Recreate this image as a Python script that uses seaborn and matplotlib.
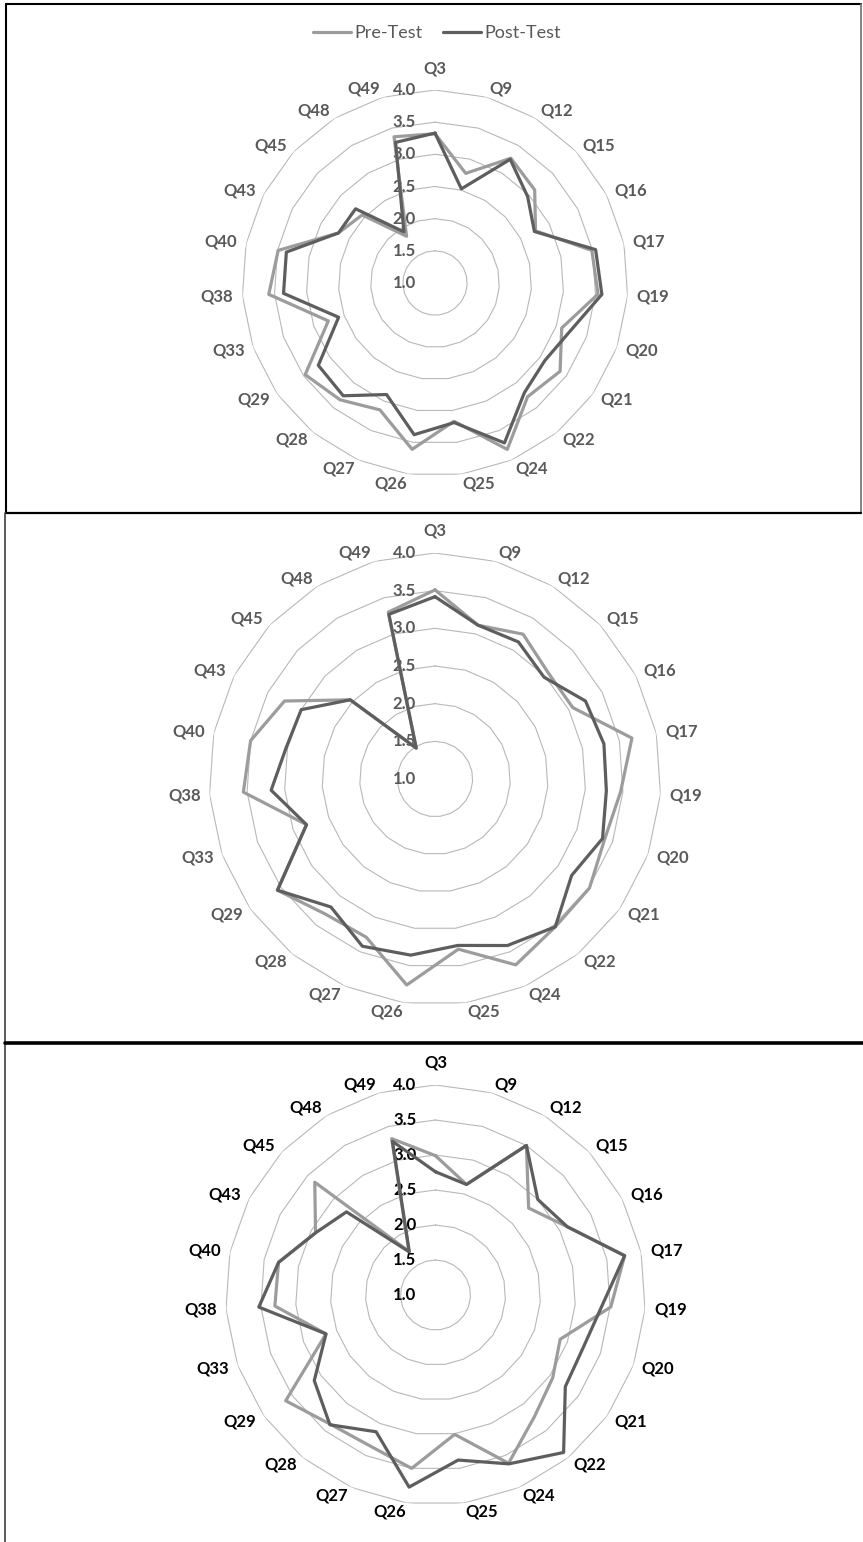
import numpy as np
import pandas as pd
import seaborn as sns
import matplotlib.pyplot as plt
from matplotlib.lines import Line2D

# Questões (eixos do radar, sentido horário a partir do topo)
questoes = ["Q3", "Q9", "Q12", "Q15", "Q16", "Q17", "Q19", "Q20", "Q21", "Q22", "Q24", "Q25",
            "Q26", "Q27", "Q28", "Q29", "Q33", "Q38", "Q40", "Q43", "Q45", "Q48", "Q49"]
niveis = [1.0, 1.5, 2.0, 2.5, 3.0, 3.5, 4.0]

# Gráfico 1
pre_1 = [3.32, 2.77, 3.27, 3.12, 2.76, 3.49, 3.54, 3.09, 3.38, 3.28, 3.82, 3.17,
         3.61, 3.15, 3.34, 3.47, 2.76, 3.59, 3.49, 2.69, 2.55, 1.85, 3.36]
post_1 = [3.33, 2.52, 3.25, 2.97, 2.74, 3.55, 3.60, 3.23, 3.09, 3.20, 3.71, 3.19,
          3.38, 2.89, 3.26, 3.22, 2.59, 3.36, 3.36, 2.69, 2.69, 1.93, 3.27]

# Gráfico 2
pre_2 = [3.51, 3.12, 3.25, 3.06, 3.06, 3.67, 3.47, 3.39, 3.51, 3.53, 3.69, 3.28,
         3.76, 3.29, 3.31, 3.56, 2.81, 3.55, 3.50, 3.25, 2.54, 1.48, 3.30]
post_2 = [3.42, 3.12, 3.13, 2.98, 3.25, 3.29, 3.28, 3.36, 3.22, 3.53, 3.41, 3.23,
          3.36, 3.42, 3.19, 3.56, 2.81, 3.18, 3.02, 3.00, 2.54, 1.48, 3.27]

# Gráfico 3
pre_3 = [2.99, 2.64, 3.50, 2.82, 3.12, 3.76, 3.51, 2.89, 3.05, 3.24, 3.62, 3.01,
         3.50, 3.35, 3.38, 3.62, 2.66, 3.30, 3.29, 2.93, 3.36, 1.73, 3.32]
post_3 = [2.76, 2.64, 3.50, 3.00, 3.12, 3.76, 3.38, 3.24, 3.27, 3.90, 3.63, 3.38,
          3.77, 3.13, 3.39, 3.12, 2.66, 3.53, 3.29, 2.93, 2.74, 1.72, 3.28]

cor_pre = "#9c9c9c"
cor_post = "#5e5e5e"
cor_grade = "#b8b8b8"

sns.set_style("white")
plt.rcParams["font.family"] = ["Lato", "DejaVu Sans"]

LARG, ALT = 863, 1542
fig = plt.figure(figsize=(LARG / 100, ALT / 100), dpi=100)


def caixa(cx, cy, raio):
    # posição do eixo polar em fração da figura a partir do centro e raio em pixels
    return [(cx - raio) / LARG, 1 - (cy + raio) / ALT, 2 * raio / LARG, 2 * raio / ALT]


def radar(box, pre, post, cor_texto):
    ax = fig.add_axes(box, projection="polar")
    ax.set_theta_zero_location("N")
    ax.set_theta_direction(-1)
    n = len(questoes)
    angulos = np.linspace(0, 2 * np.pi, n, endpoint=False)
    ang_fechado = np.append(angulos, 2 * np.pi)

    # grades poligonais
    for nivel in niveis[1:]:
        ax.plot(ang_fechado, [nivel] * (n + 1), color=cor_grade, lw=0.8, zorder=1)

    df = pd.DataFrame({
        "theta": np.concatenate([ang_fechado, ang_fechado]),
        "nota": pre + [pre[0]] + post + [post[0]],
        "teste": ["Pre-Test"] * (n + 1) + ["Post-Test"] * (n + 1),
    })
    sns.lineplot(data=df, x="theta", y="nota", hue="teste", sort=False, estimator=None,
                 palette={"Pre-Test": cor_pre, "Post-Test": cor_post},
                 linewidth=2.3, legend=False, ax=ax, zorder=3)

    ax.set_xlim(0, 2 * np.pi)
    ax.set_ylim(1, 4)
    ax.set_xticks([])
    ax.set_yticks([])
    ax.grid(False)
    ax.spines["polar"].set_visible(False)
    ax.set_xlabel("")
    ax.set_ylabel("")
    ax.patch.set_alpha(0)

    # rótulos das questões
    for q, ang in zip(questoes, angulos):
        s, c = np.sin(ang), np.cos(ang)
        if s > 0.05:
            ha = "left"
        elif s < -0.05:
            ha = "right"
        else:
            ha = "center"
        dy = 22 if ha == "center" else 9 * c
        ax.annotate(q, xy=(ang, niveis[-1]), xytext=(9 * s, dy), textcoords="offset pixels",
                    ha=ha, va="center", fontsize=12, fontweight="bold", color=cor_texto,
                    annotation_clip=False)

    # rótulos dos níveis
    for nivel in niveis:
        ax.annotate(f"{nivel:.1f}", xy=(0, nivel), xytext=(-19, 0), textcoords="offset pixels",
                    ha="right", va="center", fontsize=12, fontweight="bold", color=cor_texto,
                    annotation_clip=False, zorder=2)
    return ax


ax1 = radar(caixa(435, 283, 193), pre_1, post_1, "#595959")
ax2 = radar(caixa(435, 779, 226), pre_2, post_2, "#595959")
ax3 = radar(caixa(435.5, 1295, 210), pre_3, post_3, "#000000")

# Legenda do primeiro gráfico
handles = [Line2D([], [], color=cor_pre, lw=2.3), Line2D([], [], color=cor_post, lw=2.3)]
fig.legend(handles, ["Pre-Test", "Post-Test"], loc="center", ncol=2, frameon=False,
           bbox_to_anchor=(437 / LARG, 1 - 33 / ALT), fontsize=13, labelcolor="#595959",
           handlelength=2.1, handletextpad=0.2, columnspacing=1.1)


# Bordas dos quadros
def borda(x0, y0, x1, y1, cor, lw):
    fig.add_artist(Line2D([x0 / LARG, x1 / LARG], [1 - y0 / ALT, 1 - y1 / ALT],
                          transform=fig.transFigure, color=cor, lw=lw))


borda(6, 4, 861, 4, "#000000", 1.5)
borda(6, 4, 6, 513, "#000000", 1.5)
borda(861, 4, 861, 513, "#707070", 1.2)
borda(6, 513, 861, 513, "#000000", 1.6)
borda(5, 513, 5, 1542, "#404040", 1.2)
borda(5, 1043, 863, 1043, "#000000", 2.6)

fig.savefig("out.png", dpi=100)
